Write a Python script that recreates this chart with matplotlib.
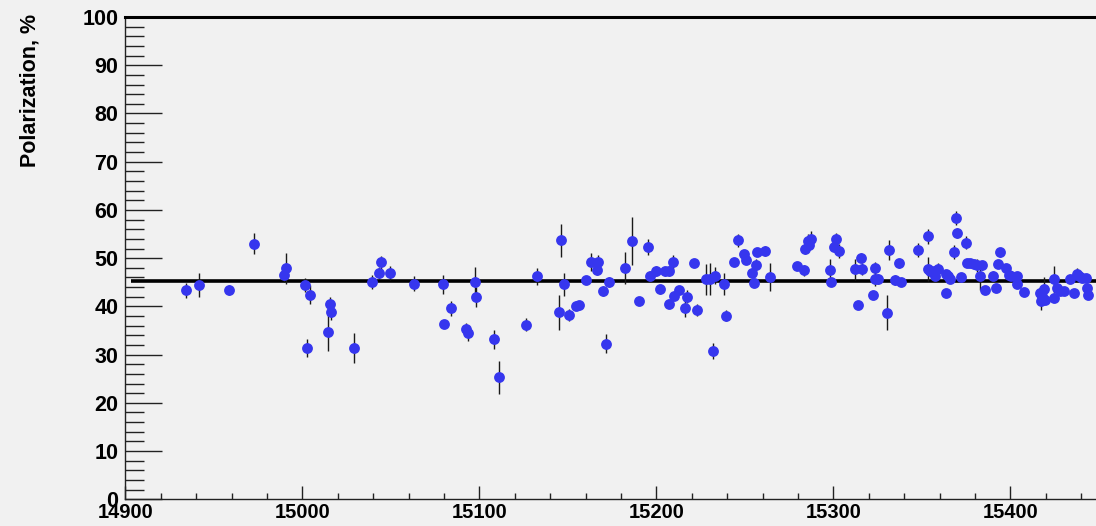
import matplotlib
matplotlib.use("Agg")
import matplotlib.pyplot as plt
from matplotlib.ticker import MultipleLocator

# ---- data ----
x_vals = [14934.5, 14941.6, 14958.4, 14972.7, 14989.4, 14990.8, 15001.3, 15004.3, 15002.6, 15015.6,
          15016.2, 15014.3, 15029.4, 15039.4, 15043.5, 15044.5, 15049.7, 15063.3, 15079.4, 15080.2,
          15084.2, 15092.5, 15093.3, 15097.3, 15098.3, 15108.0, 15111.0, 15126.6, 15132.6, 15146.1,
          15145.0, 15148.0, 15150.4, 15154.8, 15156.0, 15160.0, 15163.3, 15166.8, 15166.5, 15169.9,
          15173.5, 15171.4, 15182.0, 15186.3, 15190.4, 15195.3, 15196.6, 15199.8, 15202.3, 15205.0,
          15207.0, 15209.4, 15207.0, 15210.2, 15213.0, 15216.0, 15217.3, 15221.0, 15223.0, 15228.2,
          15230.5, 15233.3, 15232.0, 15238.0, 15239.2, 15243.9, 15246.3, 15249.3, 15250.8, 15254.0,
          15256.0, 15255.4, 15256.9, 15261.2, 15264.4, 15279.6, 15283.6, 15284.1, 15285.4, 15287.3,
          15286.0, 15298.3, 15298.9, 15300.2, 15301.7, 15303.0, 15311.9, 15313.7, 15315.3, 15316.2,
          15322.2, 15323.7, 15323.7, 15325.0, 15330.0, 15331.2, 15335.0, 15337.9, 15336.9, 15347.8,
          15353.3, 15353.3, 15354.8, 15357.6, 15358.9, 15356.7, 15363.3, 15363.3, 15364.6, 15366.1,
          15368.0, 15369.1, 15369.9, 15372.1, 15375.1, 15375.5, 15377.4, 15379.3, 15381.2, 15384.0,
          15383.0, 15385.5, 15390.0, 15391.9, 15393.8, 15393.0, 15397.2, 15399.0, 15400.4, 15403.4,
          15403.4, 15407.9, 15416.5, 15417.0, 15418.0, 15419.0, 15419.5, 15424.5, 15424.5, 15426.3,
          15428.2, 15430.5, 15433.9, 15435.8, 15437.3, 15438.6, 15440.5, 15442.4, 15443.3, 15443.7]

polarization = [43.3, 44.4, 43.4, 53.0, 46.6, 47.9, 44.4, 42.4, 31.4, 40.5,
                38.9, 34.7, 31.4, 45.0, 46.9, 49.1, 46.9, 44.7, 44.6, 36.4,
                39.6, 35.3, 34.5, 45.1, 42.0, 33.2, 25.3, 36.2, 46.2, 53.7,
                38.8, 44.6, 38.2, 40.0, 40.2, 45.4, 49.2, 49.1, 47.5, 43.2,
                45.0, 32.3, 47.9, 53.5, 41.1, 52.3, 46.3, 47.3, 43.5, 47.3,
                47.4, 49.1, 40.4, 42.1, 43.4, 39.6, 42.0, 48.9, 39.2, 45.6,
                45.6, 46.4, 30.7, 44.7, 38.1, 49.3, 53.7, 50.8, 49.6, 47.0,
                48.6, 44.9, 51.3, 51.5, 46.0, 48.4, 47.5, 52.0, 53.6, 53.9,
                52.7, 47.5, 45.1, 52.4, 53.9, 51.5, 47.7, 40.3, 50.1, 47.7,
                42.3, 47.9, 45.7, 45.7, 38.7, 51.7, 45.5, 45.0, 48.9, 51.7,
                54.5, 47.7, 47.3, 46.3, 47.8, 47.3, 42.8, 46.8, 46.2, 45.6,
                51.3, 58.3, 55.2, 46.0, 53.2, 49.0, 48.9, 48.7, 48.5, 48.5,
                46.3, 43.4, 46.3, 43.9, 51.2, 48.7, 48.0, 46.6, 46.3, 44.6,
                46.3, 43.0, 42.7, 41.1, 42.1, 43.5, 41.4, 45.6, 41.8, 43.9,
                43.2, 43.2, 45.6, 42.7, 46.7, 46.2, 45.9, 45.9, 43.9, 42.3]

errors = [1.5, 2.5, 1.0, 2.2, 1.5, 3.2, 1.5, 2.0, 1.9, 1.5,
          1.7, 3.9, 3.1, 1.5, 1.2, 1.3, 1.5, 1.6, 2.0, 0.8,
          1.5, 1.2, 1.6, 3.0, 2.1, 2.0, 3.4, 1.3, 1.7, 3.4,
          3.6, 2.4, 1.3, 0.8, 0.8, 0.8, 1.8, 1.6, 1.0, 1.0,
          1.0, 1.9, 3.3, 5.0, 0.8, 1.7, 1.0, 1.0, 1.0, 0.9,
          1.0, 1.6, 0.8, 0.8, 0.9, 1.8, 1.3, 0.7, 1.2, 3.2,
          3.3, 1.8, 1.7, 2.3, 1.2, 0.8, 1.4, 0.8, 0.8, 0.9,
          1.2, 0.8, 0.8, 1.1, 2.9, 0.8, 1.1, 1.2, 1.5, 1.7,
          1.0, 2.4, 0.8, 1.0, 1.4, 1.4, 2.2, 0.8, 1.0, 1.2,
          0.8, 1.2, 1.5, 1.0, 3.7, 2.1, 1.0, 0.8, 0.9, 1.5,
          1.5, 2.5, 1.0, 1.0, 1.2, 0.8, 0.8, 0.8, 0.8, 0.8,
          1.5, 1.5, 1.0, 0.8, 1.4, 0.8, 0.8, 0.8, 1.4, 1.0,
          3.0, 0.8, 1.0, 0.8, 1.0, 0.8, 0.8, 1.0, 0.8, 0.8,
          0.8, 0.8, 1.0, 1.8, 0.8, 2.5, 1.0, 2.8, 0.8, 0.8,
          0.8, 0.8, 0.8, 0.8, 1.3, 0.8, 0.8, 0.8, 0.8, 0.8]

mean_level = 45.2
x_range = (14900, 15450)
y_range = (0, 100)
y_label = "Polarization, %"

# ---- figure ----
BG = "#f1f1f1"
W, H = 1096, 526
fig = plt.figure(figsize=(W / 100, H / 100), dpi=100, facecolor=BG)
left_px, right_px, top_px, bottom_px = 125.3, 1099.0, 17.0, 499.3
ax = fig.add_axes([left_px / W, 1 - bottom_px / H,
                   (right_px - left_px) / W, (bottom_px - top_px) / H])
ax.set_facecolor(BG)
ax.set_xlim(*x_range)
ax.set_ylim(*y_range)

ax.hlines(mean_level, 14903, x_range[1], color="black", lw=2.6, zorder=2)

ax.errorbar(x_vals, polarization, yerr=errors, fmt="o", color="#3636ee",
            markersize=7.8, markeredgewidth=0, ecolor="#1a1a1a", elinewidth=1.0,
            capsize=2.8, capthick=1.0, zorder=3)

# spines
for s in ["left", "bottom"]:
    ax.spines[s].set_linewidth(1.0)
    ax.spines[s].set_color("#222222")
ax.spines["top"].set_linewidth(2.2)
ax.spines["top"].set_color("black")
ax.spines["right"].set_visible(False)

# ticks
ax.xaxis.set_major_locator(MultipleLocator(100))
ax.xaxis.set_minor_locator(MultipleLocator(20))
ax.yaxis.set_major_locator(MultipleLocator(10))
ax.yaxis.set_minor_locator(MultipleLocator(2))
ax.tick_params(axis="x", which="major", direction="in", length=9.5, width=1.0,
               color="#222222", pad=2.5)
ax.tick_params(axis="x", which="minor", direction="in", length=4.5, width=1.0,
               color="#222222")
ax.tick_params(axis="y", which="major", direction="in", length=26.6, width=1.0,
               color="#222222", pad=5)
ax.tick_params(axis="y", which="minor", direction="in", length=13.7, width=1.0,
               color="#222222")

for lab in ax.get_xticklabels():
    lab.set_fontfamily(["Liberation Sans", "DejaVu Sans"])
    lab.set_fontweight("bold")
    lab.set_fontsize(14.5)
for lab in ax.get_yticklabels():
    lab.set_fontfamily(["Liberation Sans", "DejaVu Sans"])
    lab.set_fontweight("bold")
    lab.set_fontsize(15.5)

fig.text(30 / W, 1 - 14 / H, y_label, rotation=90, ha="center", va="top",
         fontsize=15.5, fontweight="bold", family=["Liberation Sans", "DejaVu Sans"])

fig.savefig("out.png", dpi=100, facecolor=BG)
